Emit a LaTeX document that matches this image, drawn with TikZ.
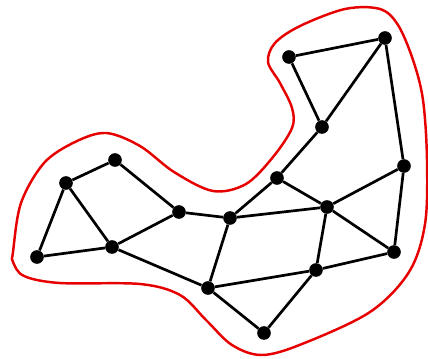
\documentclass[tikz,border=0pt]{standalone}
\usepackage{tikz}
\definecolor{hullred}{RGB}{230,0,0}

\begin{document}
\begin{tikzpicture}[
  x=0.03cm, y=-0.03cm,
  vertex/.style={circle, fill=black, draw=none, inner sep=0pt, minimum size=4.1mm},
  edge/.style={line width=2.3pt, draw=black},
  hull/.style={line width=2.1pt, draw=hullred}
]
\useasboundingbox (0,0) rectangle (428,358);

% outline
\draw[hull] plot[smooth cycle, tension=0.55] coordinates {
  (13,252) (21,203) (44,163) (75,142) (106,133) (140,146) (174,172)
  (213,191) (246,184) (273,157) (292,128) (292,108) (280,83) (268,62)
  (275,43) (300,26) (345,9) (380,9) (398,25) (413,60) (423,100)
  (427,160) (425,224) (409,272) (370,312) (302,344) (262,355) (232,345)
  (206,320) (180,295) (140,284) (60,283) (24,276) (13,262)};

% vertices
\node[vertex] (v1) at (37,257) {};
\node[vertex] (v2) at (66,183) {};
\node[vertex] (v3) at (115,160) {};
\node[vertex] (v4) at (112,247) {};
\node[vertex] (v5) at (179,212) {};
\node[vertex] (v6) at (230,218) {};
\node[vertex] (v7) at (208,288) {};
\node[vertex] (v8) at (264,333) {};
\node[vertex] (v9) at (277,178) {};
\node[vertex] (v10) at (322,127) {};
\node[vertex] (v11) at (289,57) {};
\node[vertex] (v12) at (385,38) {};
\node[vertex] (v13) at (404,166) {};
\node[vertex] (v14) at (327,207) {};
\node[vertex] (v15) at (394,252) {};
\node[vertex] (v16) at (316,270) {};

% edges
\draw[edge] (v1) -- (v2);  \draw[edge] (v1) -- (v4);
\draw[edge] (v2) -- (v3);  \draw[edge] (v2) -- (v4);
\draw[edge] (v3) -- (v5);  \draw[edge] (v4) -- (v5);
\draw[edge] (v4) -- (v7);  \draw[edge] (v5) -- (v6);
\draw[edge] (v6) -- (v9);  \draw[edge] (v6) -- (v14);
\draw[edge] (v6) -- (v7);  \draw[edge] (v9) -- (v10);
\draw[edge] (v9) -- (v14); \draw[edge] (v10) -- (v11);
\draw[edge] (v10) -- (v12); \draw[edge] (v11) -- (v12);
\draw[edge] (v12) -- (v13); \draw[edge] (v13) -- (v14);
\draw[edge] (v13) -- (v15); \draw[edge] (v14) -- (v15);
\draw[edge] (v14) -- (v16); \draw[edge] (v16) -- (v15);
\draw[edge] (v7) -- (v16); \draw[edge] (v7) -- (v8);
\draw[edge] (v8) -- (v16);

\end{tikzpicture}
\end{document}
